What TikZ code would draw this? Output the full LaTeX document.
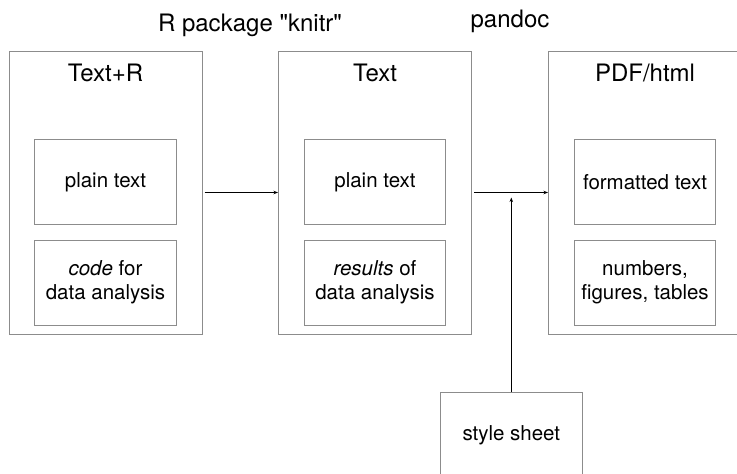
\documentclass[tikz,border=0pt]{standalone}
\usepackage{fontspec}
\setmainfont{TeX Gyre Heros}
\usetikzlibrary{arrows.meta}
\usetikzlibrary{calc,positioning}
\definecolor{boxgray}{RGB}{140,140,140}
\tikzset{
    stage/.style={draw=boxgray, line width=1pt, minimum width=193pt, minimum height=283pt, inner sep=0pt},
    part/.style={draw=boxgray, line width=1pt, minimum width=141.5pt, minimum height=85pt, inner sep=0pt,
        align=center, font=\fontsize{20.5}{24}\selectfont},
    heading/.style={anchor=base, inner sep=0pt, font=\fontsize{24}{29}\selectfont},
    flow/.style={->, line width=0.8pt},
}
\begin{document}
\begin{tikzpicture}[x=1pt, y=-1pt, >={Stealth[length=4.5pt,width=3.5pt]}]
    \useasboundingbox (0,0) rectangle (737,474);

    \node[heading] (knitr) at (250,31.7) {R package \textquotedbl knitr\textquotedbl};
    \node[heading] (pandoc) at (510,27) {pandoc};

    % three stages
    \node[stage] (src) at (105.5,192.5) {};
    \node[stage] (mid) at (375,192.5) {};
    \node[stage] (out) at (645,192.5) {};
    \node[heading] (srctitle) at (src.north |- 0,81.7) {Text+R};
    \node[heading] (midtitle) at (mid.north |- 0,81.7) {Text};
    \node[heading] (outtitle) at (out.north |- 0,81.7) {PDF/html};

    \node[part] (srcplain) at (105.5,182) {plain text};
    \node[part] (srccode) at (105.5,282.5) {\textit{code} for\\data analysis};
    \node[part] (midplain) at (375,182) {plain text};
    \node[part] (midres) at (375,282.5) {\textit{results} of\\data analysis};
    \node[part] (outfmt) at (645,182) {formatted text};
    \node[part] (outnum) at (645,282.5) {numbers,\\figures, tables};

    \node[part] (sheet) at (511.3,435) {style sheet};

    \draw[flow, shorten <=2pt] (src.east) -- (mid.west);
    \draw[flow, shorten <=2pt] (mid.east) -- coordinate[pos=0.5] (merge) (out.west);
    \draw[flow] (sheet.north) -- ($(sheet.north |- merge) + (0,5)$);

\end{tikzpicture}
\end{document}
